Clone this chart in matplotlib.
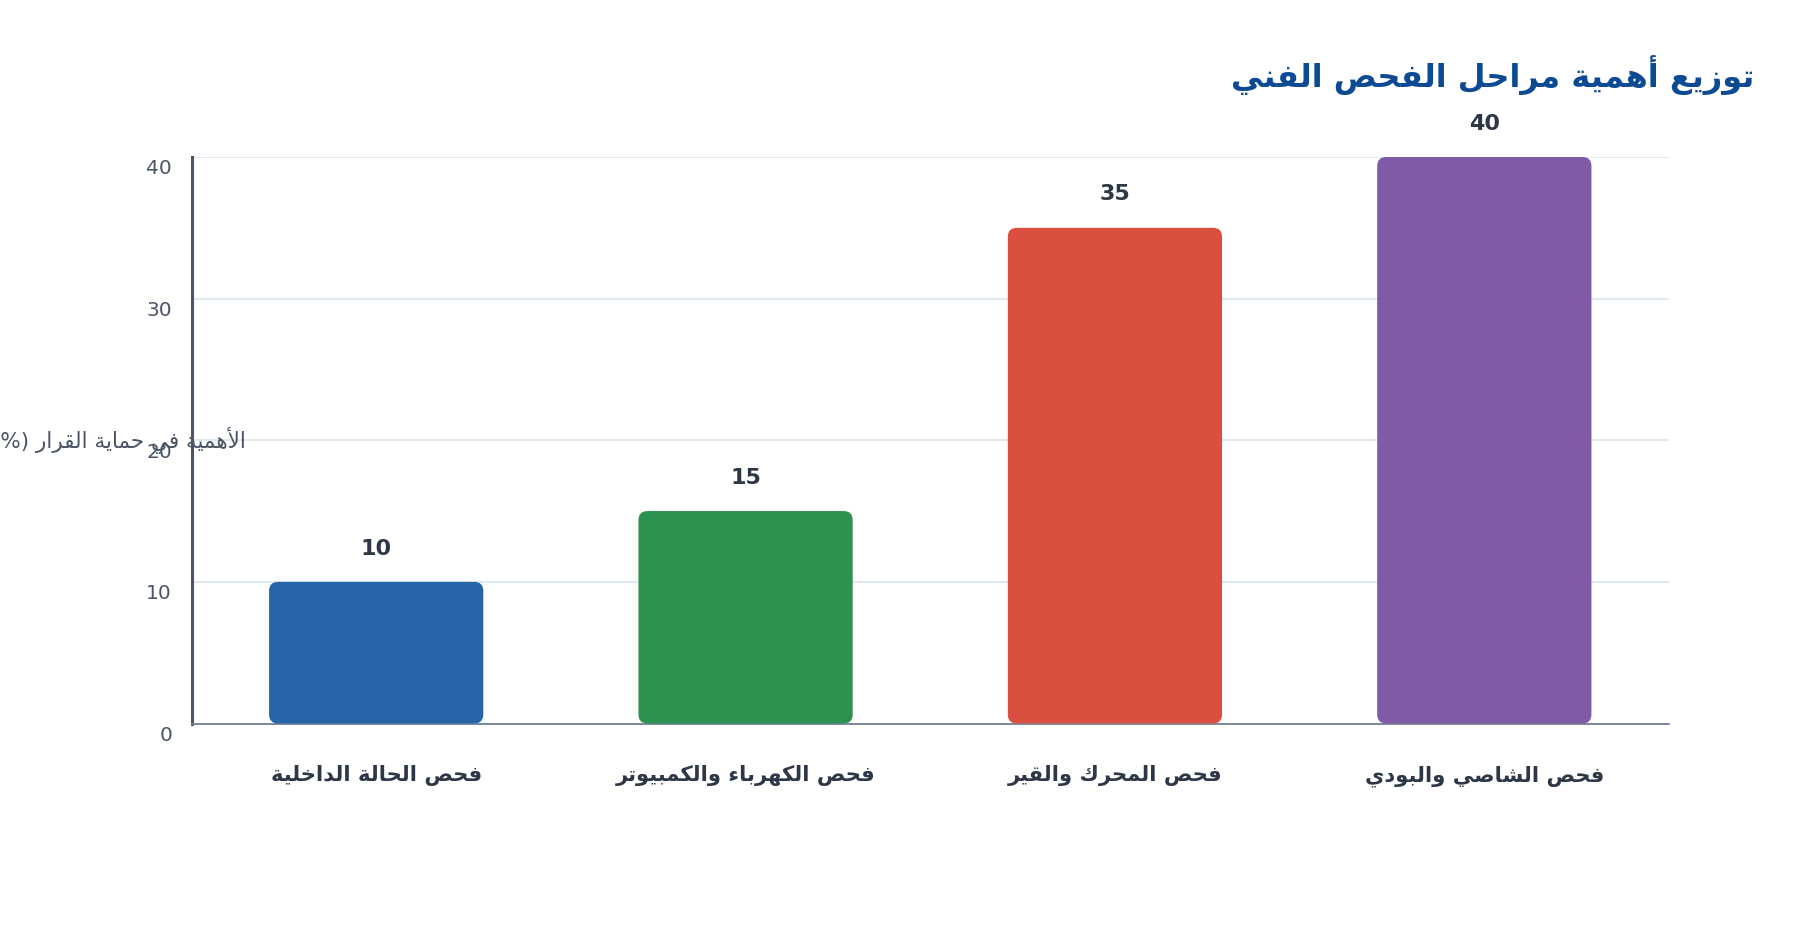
import matplotlib
matplotlib.use("Agg")
import matplotlib.pyplot as plt
from matplotlib.patches import FancyBboxPatch
from matplotlib.transforms import ScaledTranslation

# chart data
categories = ["فحص الحالة الداخلية", "فحص الكهرباء والكمبيوتر", "فحص المحرك والقير", "فحص الشاصي والبودي"]
values = [10, 15, 35, 40]
bar_colors = ["#2565a8", "#2d9250", "#db4f40", "#7e5ba4"]
title_text = "توزيع أهمية مراحل الفحص الفني"
ylabel_text = "الأهمية في حماية القرار (%)"
y_ticks = [0, 10, 20, 30, 40]

# Arabic presentation forms: isolated, final, initial, medial
FORMS = {
    "\u0621": ("\uFE80",),
    "\u0622": ("\uFE81", "\uFE82"),
    "\u0623": ("\uFE83", "\uFE84"),
    "\u0624": ("\uFE85", "\uFE86"),
    "\u0625": ("\uFE87", "\uFE88"),
    "\u0626": ("\uFE89", "\uFE8A", "\uFE8B", "\uFE8C"),
    "\u0627": ("\uFE8D", "\uFE8E"),
    "\u0628": ("\uFE8F", "\uFE90", "\uFE91", "\uFE92"),
    "\u0629": ("\uFE93", "\uFE94"),
    "\u062A": ("\uFE95", "\uFE96", "\uFE97", "\uFE98"),
    "\u062B": ("\uFE99", "\uFE9A", "\uFE9B", "\uFE9C"),
    "\u062C": ("\uFE9D", "\uFE9E", "\uFE9F", "\uFEA0"),
    "\u062D": ("\uFEA1", "\uFEA2", "\uFEA3", "\uFEA4"),
    "\u062E": ("\uFEA5", "\uFEA6", "\uFEA7", "\uFEA8"),
    "\u062F": ("\uFEA9", "\uFEAA"),
    "\u0630": ("\uFEAB", "\uFEAC"),
    "\u0631": ("\uFEAD", "\uFEAE"),
    "\u0632": ("\uFEAF", "\uFEB0"),
    "\u0633": ("\uFEB1", "\uFEB2", "\uFEB3", "\uFEB4"),
    "\u0634": ("\uFEB5", "\uFEB6", "\uFEB7", "\uFEB8"),
    "\u0635": ("\uFEB9", "\uFEBA", "\uFEBB", "\uFEBC"),
    "\u0636": ("\uFEBD", "\uFEBE", "\uFEBF", "\uFEC0"),
    "\u0637": ("\uFEC1", "\uFEC2", "\uFEC3", "\uFEC4"),
    "\u0638": ("\uFEC5", "\uFEC6", "\uFEC7", "\uFEC8"),
    "\u0639": ("\uFEC9", "\uFECA", "\uFECB", "\uFECC"),
    "\u063A": ("\uFECD", "\uFECE", "\uFECF", "\uFED0"),
    "\u0641": ("\uFED1", "\uFED2", "\uFED3", "\uFED4"),
    "\u0642": ("\uFED5", "\uFED6", "\uFED7", "\uFED8"),
    "\u0643": ("\uFED9", "\uFEDA", "\uFEDB", "\uFEDC"),
    "\u0644": ("\uFEDD", "\uFEDE", "\uFEDF", "\uFEE0"),
    "\u0645": ("\uFEE1", "\uFEE2", "\uFEE3", "\uFEE4"),
    "\u0646": ("\uFEE5", "\uFEE6", "\uFEE7", "\uFEE8"),
    "\u0647": ("\uFEE9", "\uFEEA", "\uFEEB", "\uFEEC"),
    "\u0648": ("\uFEED", "\uFEEE"),
    "\u0649": ("\uFEEF", "\uFEF0"),
    "\u064A": ("\uFEF1", "\uFEF2", "\uFEF3", "\uFEF4"),
    # lam-alef ligatures (keyed by a private marker below)
    "LA\u0622": ("\uFEF5", "\uFEF6"),
    "LA\u0623": ("\uFEF7", "\uFEF8"),
    "LA\u0625": ("\uFEF9", "\uFEFA"),
    "LA\u0627": ("\uFEFB", "\uFEFC"),
}
MIRROR = {"(": ")", ")": "(", "[": "]", "]": "["}


def shape_arabic(text):
    # join lam+alef, pick contextual forms, then lay out right-to-left
    units = []
    i = 0
    while i < len(text):
        ch = text[i]
        if ch == "\u0644" and i + 1 < len(text) and "LA" + text[i + 1] in FORMS:
            units.append("LA" + text[i + 1])
            i += 2
        else:
            units.append(ch)
            i += 1

    def joins(u):
        return u in FORMS

    def dual(u):
        return u in FORMS and len(FORMS[u]) == 4

    out = []
    for k, u in enumerate(units):
        if not joins(u):
            out.append(MIRROR.get(u, u))
            continue
        prev_ok = k > 0 and dual(units[k - 1])
        next_ok = dual(u) and k + 1 < len(units) and joins(units[k + 1]) and units[k + 1] != "\u0621"
        f = FORMS[u]
        if prev_ok and next_ok:
            out.append(f[3])
        elif prev_ok and len(f) > 1:
            out.append(f[1])
        elif next_ok:
            out.append(f[2])
        else:
            out.append(f[0])
    return "".join(reversed(out))


W, H, DPI = 1800, 940, 100
fig = plt.figure(figsize=(W / DPI, H / DPI), dpi=DPI)
fig.patch.set_facecolor("white")

left, right, top, bottom = 191.5, 1669, 157, 723.5
ax = fig.add_axes([left / W, 1 - bottom / H, (right - left) / W, (bottom - top) / H])

x = list(range(len(categories)))
ax.set_xlim(-0.5, len(categories) - 0.5)
ax.set_ylim(0, 40)

# rounded bars; aspect fixes the corner radius in screen pixels
bar_w = 0.58
x_per_px = (len(categories)) / (right - left)
y_per_px = 40 / (bottom - top)
radius = 9 * x_per_px
for xi, v, c in zip(x, values, bar_colors):
    box = FancyBboxPatch((xi - bar_w / 2, 0), bar_w, v,
                         boxstyle=f"round,pad=0,rounding_size={radius}",
                         mutation_aspect=y_per_px / x_per_px,
                         facecolor=c, edgecolor="none", zorder=3)
    ax.add_patch(box)
    ax.annotate(str(v), (xi, v), xytext=(0, 24), textcoords="offset points",
                ha="center", va="center", fontsize=16, fontweight="bold",
                color="#2d3748", annotation_clip=False)

ax.set_yticks(y_ticks)
ax.set_yticklabels([str(t) for t in y_ticks], fontsize=14.5, color="#4a5568")
ax.tick_params(axis="y", length=0, pad=14)
for lbl in ax.get_yticklabels():
    lbl.set_transform(lbl.get_transform() + ScaledTranslation(0, -10 / DPI, fig.dpi_scale_trans))

ax.set_xticks(x)
ax.set_xticklabels([shape_arabic(c) for c in categories], fontsize=15.2, fontweight="bold",
                   color="#2d3748")
ax.tick_params(axis="x", length=0, pad=30)

ax.grid(axis="y", color="#e2e8f0", linewidth=1.5, zorder=0)
ax.set_axisbelow(True)
for s in ["top", "right"]:
    ax.spines[s].set_visible(False)
ax.spines["left"].set_color("#4a5568")
ax.spines["left"].set_linewidth(2.2)
ax.spines["bottom"].set_color("#718096")
ax.spines["bottom"].set_linewidth(1.3)

fig.text(1754 / W, 1 - 75 / H, shape_arabic(title_text), ha="right", va="center",
         fontsize=23, fontweight="bold", color="#0d4a94")
fig.text(246 / W, 1 - 440 / H, shape_arabic(ylabel_text), ha="right", va="center",
         fontsize=15.5, color="#4a5568")

fig.savefig("out.png", dpi=DPI, facecolor="white")
